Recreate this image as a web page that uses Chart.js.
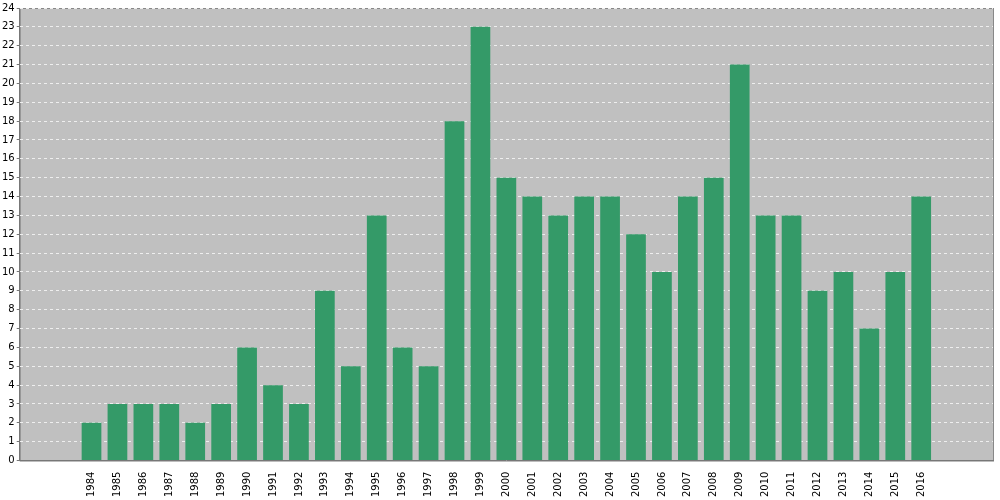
<!DOCTYPE html>
<html>
<head>
<meta charset="UTF-8">
<script src="https://cdn.jsdelivr.net/npm/chart.js"></script>
<style>
  body { margin: 0; background: #fff; }
</style>
</head>
<body>
<canvas id="chart" width="1000" height="500"></canvas>
<script>
// values
const years = [1984, 1985, 1986, 1987, 1988, 1989, 1990, 1991, 1992, 1993, 1994,
  1995, 1996, 1997, 1998, 1999, 2000, 2001, 2002, 2003, 2004, 2005, 2006, 2007,
  2008, 2009, 2010, 2011, 2012, 2013, 2014, 2015, 2016];
const counts = [2, 3, 3, 3, 2, 3, 6, 4, 3, 9, 5, 13, 6, 5, 18, 23, 15, 14, 13, 14,
  14, 12, 10, 14, 15, 21, 13, 13, 9, 10, 7, 10, 14];

const plotBg = {
  id: 'plotBg',
  beforeDraw(c) {
    const a = c.chartArea, ctx = c.ctx;
    ctx.save();
    ctx.fillStyle = '#c0c0c0';
    ctx.fillRect(a.left, a.top, a.right - a.left, a.bottom - a.top);
    ctx.strokeStyle = '#888';
    ctx.strokeRect(a.left + 0.5, a.top + 0.5, a.right - a.left, a.bottom - a.top);
    ctx.restore();
  }
};

new Chart(document.getElementById('chart'), {
  type: 'bar',
  data: {
    datasets: [{
      data: years.map((y, i) => ({ x: y, y: counts[i] })),
      backgroundColor: '#349a68',
      barPercentage: 0.76,
      categoryPercentage: 1
    }]
  },
  options: {
    responsive: false,
    animation: false,
    devicePixelRatio: 1,
    layout: { padding: { top: 6, right: 7, left: 0, bottom: 0 } },
    plugins: { legend: { display: false }, tooltip: { enabled: false } },
    scales: {
      x: {
        type: 'linear',
        min: 1981.8, max: 2018.2,
        grid: { display: false },
        border: { color: '#777' },
        afterBuildTicks(ax) { ax.ticks = years.map(v => ({ value: v })); },
        ticks: {
          autoSkip: false, maxRotation: 90, minRotation: 90,
          color: '#000', font: { family: 'DejaVu Sans', size: 10 },
          callback: v => String(v)
        }
      },
      y: {
        min: 0, max: 24,
        grid: { color: '#eeeeee', drawTicks: true, tickColor: '#777', tickLength: 3 },
        border: { color: '#777', dash: [3, 3] },
        ticks: { stepSize: 1, color: '#000', font: { family: 'DejaVu Sans', size: 10 }, padding: 2 }
      }
    }
  },
  plugins: [plotBg]
});
</script>
</body>
</html>
